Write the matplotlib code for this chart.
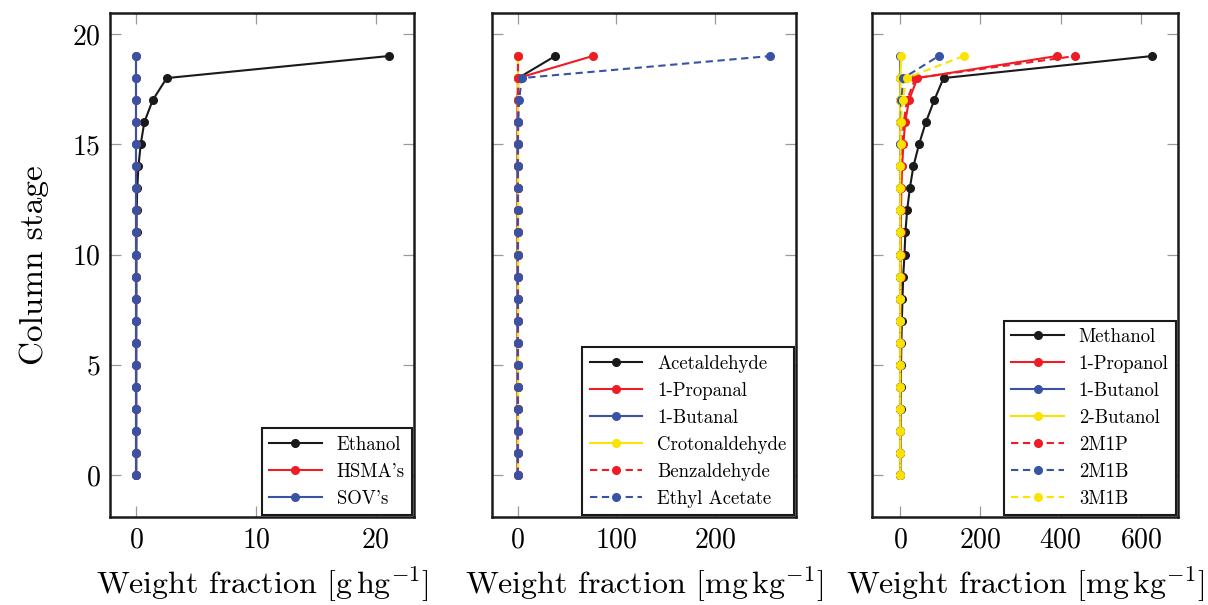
import matplotlib
matplotlib.use("Agg")
import matplotlib.pyplot as plt

plt.rcParams['font.family'] = 'serif'
plt.rcParams['font.serif'] = ['cmr10']
plt.rcParams['mathtext.fontset'] = 'cm'
plt.rcParams['axes.unicode_minus'] = False
plt.rcParams['axes.formatter.use_mathtext'] = True

stages = list(range(20))

# panel 1 [g/hg]
ethanol = [0.02, 0.02, 0.02, 0.02, 0.02, 0.02, 0.02, 0.02, 0.03, 0.03,
           0.03, 0.04, 0.05, 0.1, 0.2, 0.39, 0.69, 1.39, 2.56, 21.1]
hsma = [0] * 20
sov = [0] * 20

# panel 2 [mg/kg]
acetaldehyde = [0, 0, 0, 0, 0, 0, 0, 0, 0, 0, 0, 0, 0, 0, 0, 0, 0, 0.1, 0.5, 38]
propanal = [0, 0, 0, 0, 0, 0, 0, 0, 0, 0, 0, 0, 0, 0, 0, 0, 0, 0, 0.3, 76]
butanal = [0] * 20
crotonaldehyde = [0] * 20
benzaldehyde = [0] * 20
ethyl_acetate = [0, 0, 0, 0, 0, 0, 0, 0, 0, 0, 0, 0, 0, 0, 0, 0.2, 0.5, 1.5, 4, 256]

# panel 3 [mg/kg]
methanol = [0.2, 0.4, 0.7, 1.0, 1.5, 2.2, 3.0, 4.2, 5.8, 7.5,
            10.8, 13, 17.4, 24, 33, 47, 64, 85, 108, 628]
propanol = [0, 0, 0, 0.1, 0.2, 0.3, 0.4, 0.6, 0.8, 1.0,
            1.3, 1.6, 2.2, 3.0, 5.0, 8.0, 12.5, 22, 43, 390]
butanol = [0] * 20
butanol2 = [0, 0, 0, 0, 0, 0, 0, 0, 0, 0, 0, 0, 0, 0, 0, 0, 0, 0, 0.5, 2]
m2p1 = [0, 0, 0, 0, 0, 0.1, 0.2, 0.3, 0.4, 0.6,
        0.8, 1.0, 1.5, 2.0, 3.0, 5.0, 9.0, 17, 38, 436]
m2b1 = [0, 0, 0, 0, 0, 0, 0, 0, 0, 0, 0, 0, 0.1, 0.2, 0.4, 0.8, 1.5, 3, 8, 96]
m3b1 = [0, 0, 0, 0, 0, 0, 0, 0, 0, 0, 0, 0, 0.1, 0.2, 0.5, 1.0, 2.0, 6, 16, 158]

black = '#1a1a1a'
red = '#ee1c25'
blue = '#3953a4'
yellow = '#fbe300'
dash = (0, (3.5, 2.2))

fig = plt.figure(figsize=(12.08, 6.05), dpi=100)
ax1 = fig.add_axes([0.0911, 0.1455, 0.2517, 0.833])
ax2 = fig.add_axes([0.4073, 0.1455, 0.2517, 0.833])
ax3 = fig.add_axes([0.7219, 0.1455, 0.2533, 0.833])

def draw(ax, x, label, color, ls='-'):
    ax.plot(x, stages, ls=ls, color=color, marker='o', markersize=5.5, lw=1.5, label=label)

draw(ax1, ethanol, 'Ethanol', black)
draw(ax1, hsma, "HSMA's", red)
draw(ax1, sov, "SOV's", blue)

draw(ax2, acetaldehyde, 'Acetaldehyde', black)
draw(ax2, propanal, '1-Propanal', red)
draw(ax2, butanal, '1-Butanal', blue)
draw(ax2, crotonaldehyde, 'Crotonaldehyde', yellow)
draw(ax2, benzaldehyde, 'Benzaldehyde', red, dash)
draw(ax2, ethyl_acetate, 'Ethyl Acetate', blue, dash)

draw(ax3, methanol, 'Methanol', black)
draw(ax3, propanol, '1-Propanol', red)
draw(ax3, butanol, '1-Butanol', blue)
draw(ax3, butanol2, '2-Butanol', yellow)
draw(ax3, m2p1, '2M1P', red, dash)
draw(ax3, m2b1, '2M1B', blue, dash)
draw(ax3, m3b1, '3M1B', yellow, dash)

ax1.set_xlim(-2.17, 23.2)
ax2.set_xlim(-26, 282)
ax3.set_xlim(-70, 692)
ax1.set_xticks([0, 10, 20])
ax2.set_xticks([0, 100, 200])
ax3.set_xticks([0, 200, 400, 600])

ax1.set_xlabel(r'Weight fraction $[\mathrm{g\,hg^{-1}}]$', fontsize=23, labelpad=8)
ax2.set_xlabel(r'Weight fraction $[\mathrm{mg\,kg^{-1}}]$', fontsize=23, labelpad=8)
ax3.set_xlabel(r'Weight fraction $[\mathrm{mg\,kg^{-1}}]$', fontsize=23, labelpad=8)
ax1.set_ylabel('Column stage', fontsize=24, labelpad=16)

for ax in (ax1, ax2, ax3):
    ax.set_ylim(-1.9, 20.95)
    ax.set_yticks([0, 5, 10, 15, 20])
    for s in ax.spines.values():
        s.set_linewidth(1.8)
        s.set_color(black)
    ax.tick_params(direction='in', top=True, right=True, length=8, width=0.9,
                   color='#9a9a9a', labelsize=20, pad=7)
    if ax is not ax1:
        ax.tick_params(labelleft=False)
    leg = ax.legend(loc='lower right', fontsize=13.5, labelspacing=0.48, handlelength=2.8,
                    borderaxespad=0.1, fancybox=False, edgecolor=black, framealpha=1,
                    numpoints=1)
    leg.get_frame().set_linewidth(1.5)

fig.savefig('out.png', dpi=100)
